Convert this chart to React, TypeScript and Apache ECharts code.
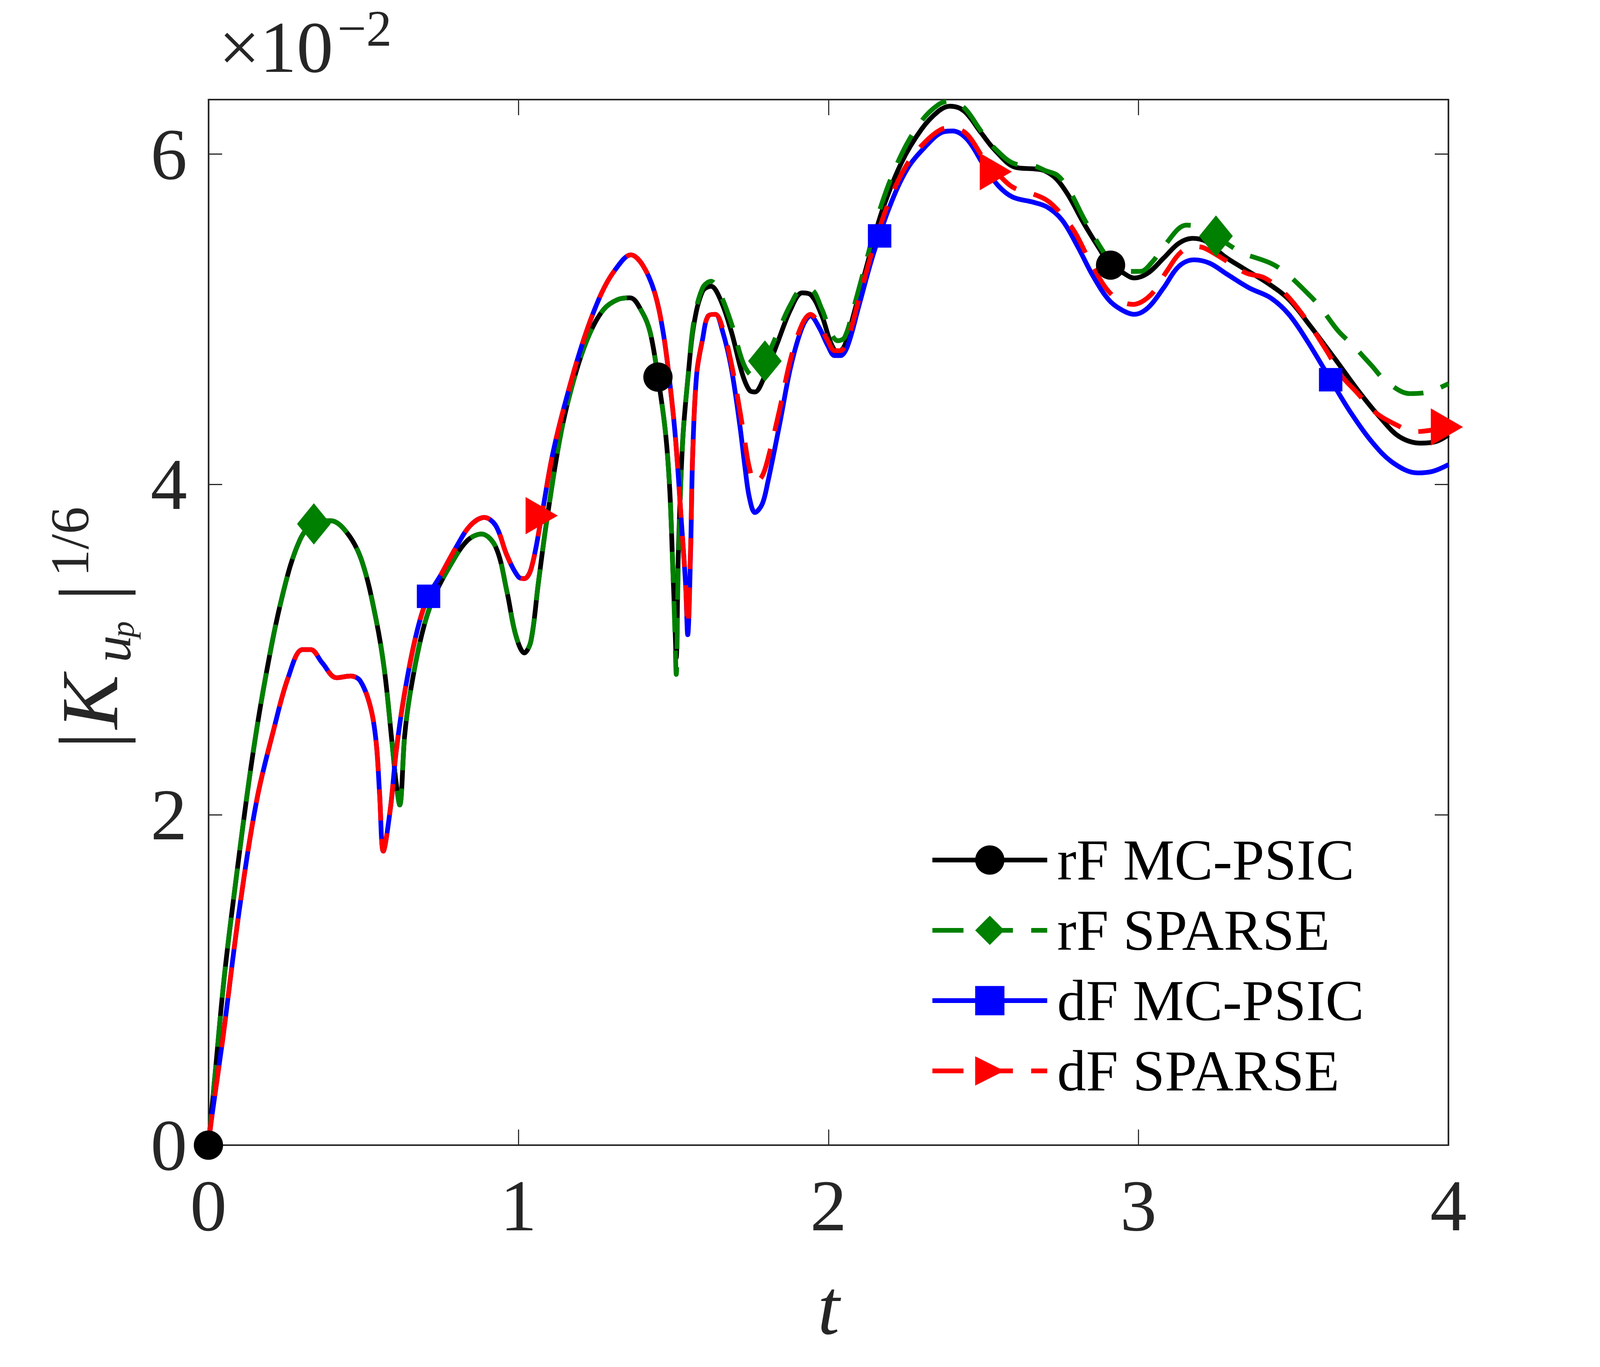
import React, { useEffect, useRef } from 'react';
import * as echarts from 'echarts';

const REF_W = 4667;
const REF_H = 3500;

// ---- data (values in units of 1e-2) ----
const rfEarly: number[][] = [
  [0, 0], [0.02, 0.40], [0.05, 1.0], [0.083, 1.52], [0.138, 2.30], [0.184, 2.83], [0.239, 3.33],
  [0.294, 3.66], [0.344, 3.77], [0.395, 3.78], [0.45, 3.70], [0.496, 3.53], [0.541, 3.18],
  [0.568, 2.87], [0.592, 2.44], [0.605, 2.20], [0.617, 2.06], [0.633, 2.48], [0.651, 2.74],
  [0.688, 3.09], [0.725, 3.31], [0.78, 3.51], [0.835, 3.66], [0.881, 3.70], [0.927, 3.62],
  [0.963, 3.35], [0.991, 3.09], [1.019, 2.98], [1.04, 3.05], [1.064, 3.40], [1.092, 3.79],
  [1.138, 4.32], [1.184, 4.67], [1.229, 4.91], [1.275, 5.06], [1.321, 5.12], [1.36, 5.13],
  [1.40, 5.04], [1.425, 4.92], [1.45, 4.65], [1.474, 4.32], [1.488, 3.97], [1.498, 3.49]
];
const blackTail: number[][] = [
  [1.504, 3.20], [1.509, 2.95], [1.516, 3.60], [1.53, 4.27], [1.548, 4.67], [1.566, 4.97],
  [1.594, 5.17], [1.621, 5.20], [1.649, 5.13], [1.686, 4.93], [1.722, 4.67], [1.745, 4.57],
  [1.763, 4.56], [1.786, 4.62], [1.832, 4.84], [1.878, 5.06], [1.915, 5.16], [1.942, 5.15],
  [1.979, 5.02], [2.007, 4.86], [2.03, 4.80], [2.052, 4.84], [2.08, 5.02], [2.126, 5.34],
  [2.172, 5.65], [2.236, 5.95], [2.30, 6.15], [2.355, 6.26], [2.392, 6.29], [2.438, 6.26],
  [2.492, 6.13], [2.539, 6.02], [2.603, 5.92], [2.667, 5.91], [2.696, 5.90], [2.735, 5.85],
  [2.774, 5.75], [2.824, 5.58], [2.873, 5.43], [2.908, 5.33], [2.943, 5.29], [2.987, 5.25],
  [3.031, 5.28], [3.081, 5.37], [3.13, 5.46], [3.175, 5.49], [3.219, 5.47], [3.278, 5.38],
  [3.337, 5.31], [3.416, 5.22], [3.485, 5.12], [3.554, 4.96], [3.634, 4.76], [3.712, 4.56],
  [3.782, 4.40], [3.841, 4.29], [3.91, 4.25], [3.96, 4.26], [4.0, 4.30]
];
const greenTail: number[][] = [
  [1.504, 3.15], [1.509, 2.85], [1.516, 3.55], [1.53, 4.27], [1.548, 4.67], [1.566, 4.99],
  [1.594, 5.19], [1.621, 5.23], [1.649, 5.16], [1.686, 4.98], [1.722, 4.75], [1.745, 4.67],
  [1.763, 4.66], [1.786, 4.71], [1.832, 4.90], [1.878, 5.09], [1.915, 5.18], [1.942, 5.18],
  [1.979, 5.06], [2.007, 4.92], [2.03, 4.87], [2.052, 4.89], [2.08, 5.06], [2.126, 5.38],
  [2.172, 5.70], [2.236, 6.00], [2.30, 6.20], [2.355, 6.30], [2.392, 6.32], [2.438, 6.28],
  [2.492, 6.14], [2.539, 6.03], [2.603, 5.94], [2.661, 5.93], [2.70, 5.90], [2.74, 5.87],
  [2.78, 5.77], [2.824, 5.61], [2.883, 5.42], [2.91, 5.36], [2.972, 5.29], [3.006, 5.29],
  [3.046, 5.35], [3.085, 5.45], [3.155, 5.57], [3.214, 5.55], [3.253, 5.50], [3.30, 5.44],
  [3.337, 5.40], [3.426, 5.34], [3.476, 5.28], [3.544, 5.16], [3.584, 5.08], [3.644, 4.93],
  [3.693, 4.84], [3.752, 4.72], [3.796, 4.63], [3.875, 4.55], [3.935, 4.56], [4.0, 4.61]
];
const dfEarly: number[][] = [
  [0, 0], [0.01, 0.16], [0.046, 0.64], [0.10, 1.43], [0.156, 2.09], [0.211, 2.52], [0.257, 2.83],
  [0.303, 3.00], [0.33, 3.00], [0.367, 2.92], [0.413, 2.83], [0.459, 2.84], [0.49, 2.81],
  [0.523, 2.65], [0.541, 2.44], [0.552, 2.13], [0.564, 1.78], [0.587, 2.04], [0.606, 2.39],
  [0.633, 2.74], [0.67, 3.09], [0.706, 3.31], [0.752, 3.46], [0.799, 3.62], [0.844, 3.75],
  [0.89, 3.80], [0.927, 3.75], [0.963, 3.57], [1.0, 3.44], [1.019, 3.43], [1.041, 3.49],
  [1.073, 3.79], [1.11, 4.18], [1.156, 4.53], [1.211, 4.88], [1.266, 5.15], [1.312, 5.30],
  [1.363, 5.39], [1.40, 5.33], [1.438, 5.17], [1.466, 4.93], [1.488, 4.62], [1.507, 4.27],
  [1.525, 3.79], [1.539, 3.40]
];
const blueTail: number[][] = [
  [1.546, 3.09], [1.555, 3.57], [1.562, 4.18], [1.575, 4.67], [1.594, 4.88], [1.612, 5.02],
  [1.635, 5.03], [1.658, 4.93], [1.686, 4.71], [1.714, 4.36], [1.731, 4.10], [1.745, 3.92],
  [1.763, 3.83], [1.786, 3.88], [1.804, 4.01], [1.842, 4.36], [1.878, 4.71], [1.915, 4.95],
  [1.942, 5.02], [1.97, 4.95], [1.998, 4.84], [2.02, 4.78], [2.039, 4.78], [2.062, 4.84],
  [2.098, 5.08], [2.144, 5.39], [2.199, 5.69], [2.254, 5.91], [2.31, 6.04], [2.364, 6.13],
  [2.40, 6.14], [2.447, 6.09], [2.502, 5.93], [2.547, 5.81], [2.594, 5.74], [2.658, 5.71],
  [2.705, 5.68], [2.754, 5.60], [2.804, 5.44], [2.854, 5.26], [2.903, 5.12], [2.943, 5.06],
  [2.987, 5.03], [3.031, 5.07], [3.081, 5.19], [3.13, 5.32], [3.179, 5.36], [3.229, 5.34],
  [3.288, 5.27], [3.357, 5.19], [3.426, 5.13], [3.485, 5.03], [3.544, 4.87], [3.618, 4.64],
  [3.683, 4.44], [3.752, 4.26], [3.822, 4.13], [3.90, 4.07], [3.95, 4.08], [4.0, 4.12]
];
const redTail: number[][] = [
  [1.546, 3.14], [1.555, 3.60], [1.562, 4.18], [1.575, 4.67], [1.594, 4.88], [1.612, 5.02],
  [1.635, 5.03], [1.658, 4.95], [1.686, 4.74], [1.714, 4.45], [1.731, 4.25], [1.745, 4.10],
  [1.763, 4.01], [1.786, 4.05], [1.804, 4.15], [1.842, 4.45], [1.878, 4.76], [1.915, 4.97],
  [1.942, 5.03], [1.97, 4.97], [1.998, 4.87], [2.02, 4.81], [2.039, 4.81], [2.062, 4.88],
  [2.098, 5.12], [2.144, 5.43], [2.199, 5.73], [2.254, 5.94], [2.31, 6.07], [2.364, 6.15],
  [2.40, 6.16], [2.447, 6.12], [2.502, 5.97], [2.547, 5.88], [2.594, 5.80], [2.658, 5.76],
  [2.705, 5.72], [2.745, 5.65], [2.794, 5.53], [2.844, 5.35], [2.913, 5.15], [2.982, 5.09],
  [3.041, 5.15], [3.091, 5.29], [3.139, 5.41], [3.185, 5.44], [3.214, 5.43], [3.278, 5.36],
  [3.347, 5.28], [3.407, 5.25], [3.476, 5.15], [3.544, 4.99], [3.61, 4.80], [3.654, 4.66],
  [3.703, 4.56], [3.762, 4.44], [3.822, 4.37], [3.895, 4.32], [3.95, 4.33], [4.0, 4.35]
];

const markerTBlack = [0, 1.45, 2.91];
const markerTGreen = [0.34, 1.795, 3.25];
const markerTBlue = [0.71, 2.165, 3.62];
const markerTRed = [1.075, 2.54, 3.995];

const seriesNames = ['rF MC-PSIC', 'rF SPARSE', 'dF MC-PSIC', 'dF SPARSE'];
const xTicks = [0, 1, 2, 3, 4];
const yTicks = [0, 2, 4, 6];
const yMax = 6.33;

function interp(pts: number[][], t: number): number {
  if (t <= pts[0][0]) return pts[0][1];
  for (let i = 1; i < pts.length; i++) {
    if (t <= pts[i][0]) {
      const [t0, y0] = pts[i - 1];
      const [t1, y1] = pts[i];
      return y0 + ((y1 - y0) * (t - t0)) / (t1 - t0);
    }
  }
  return pts[pts.length - 1][1];
}

const FONT = 'Liberation Serif';
const AX = '#262626';

export default function App() {
  const ref = useRef<HTMLDivElement>(null);
  useEffect(() => {
    if (!ref.current) return;
    const W = window.innerWidth || REF_W;
    const H = window.innerHeight || REF_H;
    const sx = W / REF_W;
    const sy = H / REF_H;
    const f = Math.sqrt(sx * sy);
    const px = (v: number) => v * sx;
    const py = (v: number) => v * sy;
    const pf = (v: number) => v * f;
    ref.current.style.width = W + 'px';
    ref.current.style.height = H + 'px';
    const chart = echarts.init(ref.current, null, { renderer: 'svg', width: W, height: H });

    const black = rfEarly.concat(blackTail);
    const green = rfEarly.concat(greenTail);
    const blue = dfEarly.concat(blueTail);
    const red = dfEarly.concat(redTail);

    const triPath = 'path://M0,0L86,50L0,100Z';
    const diaPath = 'path://M45,0L90,55.5L45,111L0,55.5Z';
    const dash = [pf(85), pf(50)];

    const defs = [
      { name: seriesNames[0], data: black, color: '#000000', dash: 'solid' as any, symbol: 'circle', size: [pf(80), pf(80)], mt: markerTBlack },
      { name: seriesNames[1], data: green, color: '#008000', dash: dash as any, symbol: diaPath, size: [pf(92), pf(113)], mt: markerTGreen },
      { name: seriesNames[2], data: blue, color: '#0000ff', dash: 'solid' as any, symbol: 'rect', size: [pf(64), pf(64)], mt: markerTBlue },
      { name: seriesNames[3], data: red, color: '#ff0000', dash: dash as any, symbol: triPath, size: [pf(88), pf(102)], mt: markerTRed },
    ];

    const series: any[] = [];
    defs.forEach((d, i) => {
      series.push({
        name: d.name,
        type: 'line',
        data: d.data,
        smooth: 0.35,
        symbol: d.symbol,
        showSymbol: false,
        itemStyle: { color: d.color },
        lineStyle: { color: d.color, width: pf(13), type: d.dash },
        z: 2 + i,
      });
    });
    defs.forEach((d, i) => {
      series.push({
        name: d.name + ' markers',
        type: 'scatter',
        data: d.mt.map((t) => [t, interp(d.data, t)]),
        symbol: d.symbol,
        symbolSize: d.size,
        itemStyle: { color: d.color, opacity: 1 },
        clip: false,
        z: 10 + i,
        silent: true,
      });
    });

    const axisLine = { show: true, onZero: false, lineStyle: { color: AX, width: pf(4.5) } };
    const xTick = { show: true, inside: true, length: py(40), lineStyle: { color: AX, width: pf(3) } };
    const yTick = { show: true, inside: true, length: px(40), lineStyle: { color: AX, width: pf(3) } };

    const txt = (x: number, y: number, text: string, size: number, italic = false, extra: any = {}) => ({
      type: 'text', x, y,
      style: {
        text, fontSize: pf(size), fontStyle: italic ? 'italic' : 'normal', fontFamily: FONT, fill: AX,
        textAlign: 'left', textVerticalAlign: 'middle', ...extra,
      },
    });
    const lt = (x: number, y: number, text: string, size: number, italic = false) =>
      txt(pf(x), pf(y), text, size, italic);

    const legendIconH = pf(100);
    const legendFont = pf(158);

    const option: any = {
      animation: false,
      backgroundColor: '#ffffff',
      grid: { left: px(608), right: px(REF_W - 4225), top: py(255), bottom: py(REF_H - 2932), containLabel: false },
      xAxis: [
        {
          type: 'value', min: xTicks[0], max: xTicks[xTicks.length - 1], interval: 1, position: 'bottom',
          axisLine, axisTick: xTick, splitLine: { show: false },
          axisLabel: { fontSize: pf(200), fontFamily: FONT, color: AX, margin: py(61) },
        },
        {
          type: 'value', min: xTicks[0], max: xTicks[xTicks.length - 1], interval: 1, position: 'top',
          axisLine, axisTick: xTick, splitLine: { show: false }, axisLabel: { show: false },
        },
      ],
      yAxis: [
        {
          type: 'value', min: yTicks[0], max: yMax, interval: 2, position: 'left',
          axisLine, axisTick: yTick, splitLine: { show: false },
          axisLabel: { fontSize: pf(200), fontFamily: FONT, color: AX, margin: px(62), showMaxLabel: false },
        },
        {
          type: 'value', min: yTicks[0], max: yMax, interval: 2, position: 'right',
          axisLine, axisTick: yTick, splitLine: { show: false }, axisLabel: { show: false },
        },
      ],
      legend: {
        data: seriesNames,
        orient: 'vertical',
        left: px(2707),
        top: py(2197) - legendIconH / 2 - (legendFont - legendIconH) / 2,
        itemWidth: px(335),
        itemHeight: legendIconH,
        itemGap: Math.max(0, py(180) - legendFont),
        lineStyle: { width: pf(13) },
        textStyle: { fontSize: legendFont, fontFamily: FONT, color: '#000', padding: [0, 0, 0, Math.max(0, px(29) - 5)] },
        selectedMode: false,
      },
      series,
      graphic: [
        txt(px(638), py(121), '×10', 200),
        txt(px(638) + pf(324), py(72), '−2', 140, false, { lineHeight: pf(100) }),
        {
          type: 'text', x: px(2417), y: py(3347),
          style: { text: 't', fontSize: pf(215), fontStyle: 'italic', fontFamily: FONT, fill: AX, textAlign: 'center', textVerticalAlign: 'middle' },
        },
        {
          type: 'group', x: px(284) + pf(54), y: py(1593.5) + pf(331.5), rotation: Math.PI / 2,
          children: [
            lt(-14, -77, '|', 230),
            lt(40, -75, 'K', 222, true),
            lt(222, -15, 'u', 148, true),
            lt(290, 15, 'p', 90, true),
            lt(390, -77, '|', 230),
            lt(456, -129, '1/6', 150),
          ],
        },
      ],
    };

    chart.setOption(option);
    return () => chart.dispose();
  }, []);

  return (
    <div
      ref={ref}
      style={{ position: 'fixed', left: 0, top: 0, width: '100vw', height: '100vh', background: '#ffffff' }}
    />
  );
}
